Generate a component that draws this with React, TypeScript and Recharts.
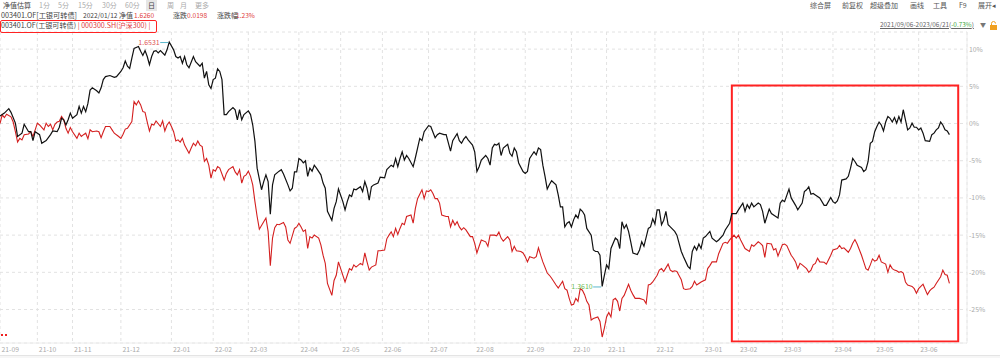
import React from "react";
import { CartesianGrid, LineChart, Line, ReferenceArea, ReferenceDot, XAxis, YAxis } from "recharts";

// trading-day index since 2021/09/06, cumulative return %
const fundReturn: [number, number][] = [
	[0, 1.0], [2, 1.4], [4, 2.0], [5, 1.5], [7, 0.05], [8, -1.75], [10, -1.3], [11, -0.1], [13, -1.1], [14, -1.1], [15, -2.3], [16, -1.1], [18, -1.5], [19, -2.65], [21, -2.3], [23, -1.5], [24, -1.0], [26, -1.1], [27, -0.5], [28, 0.7], [29, 0.5], [30, -0.2], [31, 0.5], [32, 1.4], [33, 0.7], [35, 1.2], [36, 2.3], [37, 1.4], [38, 2.3], [39, 1.6], [40, 2.7], [41, 4.5], [42, 4.8], [44, 4.4], [45, 4.1], [46, 4.8], [47, 5.9], [48, 6.3], [50, 6.45], [52, 6.2], [53, 6.3], [55, 7.0], [56, 7.5], [57, 8.4], [58, 7.7], [59, 7.4], [60, 8.8], [61, 10.1], [63, 10.35], [64, 9.7], [65, 9.15], [66, 9.8], [67, 9.0], [68, 7.9], [69, 9.0], [70, 9.7], [71, 9.8], [72, 9.5], [73, 9.8], [75, 9.2], [76, 9.9], [77, 10.95], [79, 9.9], [80, 9.0], [81, 8.8], [82, 9.0], [83, 8.1], [84, 9.0], [85, 7.9], [86, 7.5], [88, 9.0], [89, 8.3], [91, 7.7], [92, 8.1], [93, 6.1], [94, 7.0], [95, 5.2], [96, 4.7], [97, 5.9], [98, 6.1], [99, 7.35], [100, 7.0], [101, 5.9], [102, 1.2], [103, 1.2], [104, 1.6], [106, 2.15], [107, 1.85], [108, 0.5], [109, 1.85], [110, 0.5], [111, 1.2], [113, 1.7], [114, 1.2], [115, -0.2], [116, -2.4], [117, -6.0], [119, -8.9], [120, -7.8], [121, -6.9], [122, -7.8], [123, -12.2], [124, -8.25], [125, -6.9], [127, -6.4], [128, -6.2], [129, -6.8], [131, -8.25], [132, -9.05], [133, -8.7], [134, -6.5], [135, -6.5], [136, -4.7], [137, -4.9], [138, -5.3], [139, -5.0], [140, -7.1], [141, -6.0], [142, -6.4], [143, -5.6], [144, -6.0], [146, -6.9], [147, -8.0], [148, -8.7], [149, -11.8], [151, -13.0], [152, -11.4], [153, -10.5], [154, -8.8], [156, -10.5], [157, -11.6], [158, -10.5], [159, -9.6], [160, -9.8], [161, -8.8], [162, -8.9], [164, -8.5], [165, -9.15], [166, -7.8], [167, -8.7], [168, -10.3], [169, -8.5], [170, -8.25], [172, -8.0], [173, -7.2], [175, -7.3], [176, -6.2], [178, -5.6], [179, -5.8], [180, -4.7], [181, -5.8], [182, -4.7], [183, -3.8], [184, -4.9], [185, -4.3], [186, -4.7], [188, -5.8], [189, -4.6], [190, -3.3], [191, -2.0], [192, -2.3], [193, -1.1], [195, -0.3], [196, -0.4], [198, -1.9], [199, -1.5], [200, -1.3], [202, -1.5], [203, -1.5], [205, -3.7], [206, -2.3], [208, -1.35], [209, -2.3], [210, -2.65], [211, -2.1], [212, -1.75], [213, -2.2], [215, -2.9], [216, -3.8], [217, -6.45], [218, -5.8], [219, -4.9], [221, -4.3], [222, -4.7], [223, -5.6], [224, -3.3], [225, -2.8], [226, -2.9], [227, -2.65], [228, -4.3], [229, -3.3], [231, -2.8], [232, -4.0], [233, -4.4], [234, -3.3], [235, -3.8], [236, -5.3], [238, -6.45], [239, -6.7], [240, -6.45], [241, -4.7], [243, -3.8], [244, -4.2], [245, -3.3], [246, -3.5], [247, -5.6], [248, -7.1], [249, -8.8], [250, -8.2], [251, -7.7], [253, -8.25], [254, -9.6], [255, -11.2], [256, -11.2], [257, -13.9], [258, -13.4], [259, -13.2], [260, -13.9], [261, -12.95], [262, -12.3], [263, -12.7], [264, -11.5], [265, -11.8], [266, -12.3], [267, -14.1], [269, -15.0], [270, -17.0], [271, -17.2], [272, -17.2], [273, -17.7], [274, -21.9], [275, -20.4], [276, -19.0], [277, -19.5], [278, -16.8], [280, -15.4], [281, -15.65], [282, -16.8], [283, -13.2], [284, -14.1], [285, -13.6], [286, -14.5], [287, -15.9], [288, -17.4], [290, -17.6], [291, -17.0], [292, -15.9], [293, -16.5], [295, -14.1], [296, -13.9], [297, -12.8], [298, -13.5], [299, -11.6], [300, -11.6], [301, -13.6], [302, -13.0], [303, -11.8], [304, -13.6], [305, -13.9], [307, -14.5], [308, -15.0], [310, -17.2], [311, -17.9], [313, -19.2], [314, -19.5], [315, -17.2], [316, -16.5], [317, -17.0], [318, -16.2], [319, -16.8], [320, -15.4], [321, -15.2], [323, -14.5], [324, -15.4], [326, -15.9], [327, -15.65], [329, -15.0], [330, -14.3], [332, -13.4], [333, -12.1], [335, -12.1], [336, -11.6], [338, -10.7], [339, -11.8], [340, -10.9], [341, -11.4], [342, -10.7], [343, -11.2], [345, -10.7], [346, -10.9], [347, -11.8], [348, -13.4], [350, -11.5], [351, -12.1], [353, -12.5], [354, -12.7], [355, -10.7], [356, -10.3], [357, -10.5], [359, -8.8], [360, -10.0], [362, -11.0], [363, -11.6], [365, -10.7], [366, -9.15], [367, -8.9], [368, -8.5], [369, -9.5], [370, -9.4], [371, -9.6], [373, -10.0], [375, -11.0], [376, -11.0], [378, -9.95], [379, -10.5], [380, -10.7], [381, -10.4], [382, -9.6], [383, -7.6], [385, -7.45], [386, -7.1], [387, -6.0], [388, -4.7], [389, -5.1], [390, -5.6], [392, -5.9], [393, -6.45], [394, -6.2], [395, -5.1], [396, -2.65], [397, -2.4], [398, -1.1], [399, -0.4], [400, 0.2], [401, -0.2], [402, -1.0], [403, 0.2], [404, 0.95], [405, 0.7], [406, 0.2], [407, 0.8], [408, 0.05], [409, 0.95], [410, 0.2], [411, 1.85], [412, 0.5], [413, -0.85], [414, -0.6], [415, 0.05], [416, -0.5], [417, -0.5], [418, -0.85], [419, -0.6], [420, -1.3], [421, -2.3], [423, -2.4], [424, -1.5], [425, -1.3], [426, -0.85], [427, -0.6], [428, 0.2], [429, -0.2], [430, -0.85], [431, -1.0], [432, -1.5],
];

const indexReturn: [number, number][] = [
	[0, 0], [1, 1.17], [2, 0.8], [3, 1.25], [5, 0.9], [6, 0.2], [7, -1.1], [8, -2.5], [9, -2.0], [10, -2.2], [11, -1.5], [13, -1.4], [14, -1.1], [15, -1.75], [16, -0.85], [17, 0.05], [18, -0.2], [20, -0.85], [21, 0.05], [22, -0.4], [23, -0.1], [24, -0.85], [25, -0.1], [26, 0.2], [27, 0.3], [28, 0.95], [29, 0.5], [30, -0.65], [31, -1.3], [32, -0.55], [33, -1.1], [35, -2.0], [36, -1.3], [37, -1.75], [38, -1.5], [39, -1.3], [40, -2.05], [41, -0.85], [42, -1.1], [44, -1.0], [45, -1.1], [46, -1.9], [47, -1.1], [48, -0.4], [50, -0.4], [51, -0.85], [52, -1.3], [54, -1.75], [55, -2.0], [56, -1.45], [57, -0.75], [58, -0.65], [60, 0.25], [61, 2.95], [62, 2.5], [63, 3.05], [64, 2.5], [65, 1.6], [66, 1.5], [67, 0.2], [68, -1.0], [69, -0.1], [70, -0.2], [71, 0.35], [73, -0.4], [74, 0.35], [75, -1.0], [76, -0.2], [77, 0.2], [78, -0.4], [79, -1.1], [80, -2.35], [81, -2.2], [82, -2.5], [83, -2.0], [84, -2.9], [86, -4.0], [87, -3.3], [88, -2.65], [89, -3.0], [90, -2.35], [91, -2.9], [92, -3.1], [93, -5.1], [94, -4.7], [95, -5.6], [96, -7.35], [97, -6.2], [98, -6.4], [99, -5.8], [100, -6.0], [102, -7.6], [103, -6.7], [104, -6.2], [106, -5.8], [107, -6.5], [108, -6.9], [109, -6.2], [110, -8.0], [111, -7.1], [112, -6.9], [113, -6.4], [114, -7.1], [115, -8.25], [116, -10.5], [117, -12.5], [118, -14.2], [120, -13.2], [121, -12.7], [122, -14.5], [123, -19.1], [124, -15.4], [125, -14.0], [126, -13.55], [127, -13.6], [129, -13.3], [130, -13.9], [131, -15.65], [132, -16.1], [134, -14.1], [135, -13.9], [136, -13.4], [137, -13.9], [138, -14.5], [139, -14.3], [140, -16.8], [141, -15.2], [142, -15.4], [143, -15.0], [145, -15.4], [146, -16.3], [147, -17.7], [148, -18.8], [149, -21.5], [151, -23.1], [152, -21.1], [153, -20.4], [154, -18.6], [155, -19.5], [157, -21.3], [158, -20.4], [159, -19.5], [160, -19.7], [161, -19.0], [162, -19.3], [164, -18.8], [165, -19.0], [166, -17.4], [167, -18.6], [168, -19.7], [169, -19.3], [171, -19.0], [172, -17.1], [173, -17.1], [175, -17.0], [176, -15.5], [177, -15.0], [178, -14.55], [179, -15.2], [180, -14.1], [181, -14.9], [182, -14.1], [183, -13.4], [184, -13.6], [185, -12.5], [187, -12.3], [188, -13.4], [189, -11.4], [190, -10.1], [192, -8.9], [193, -10.1], [194, -9.05], [195, -9.15], [196, -8.9], [197, -9.4], [198, -10.1], [199, -10.1], [200, -10.7], [201, -12.3], [203, -12.5], [204, -12.5], [205, -13.9], [206, -13.0], [207, -13.65], [208, -13.2], [209, -13.9], [210, -14.3], [211, -14.0], [212, -14.3], [214, -15.2], [215, -15.2], [216, -16.1], [217, -17.4], [218, -16.5], [219, -15.65], [221, -15.9], [222, -16.5], [223, -15.0], [225, -15.0], [226, -15.1], [227, -14.6], [228, -15.4], [229, -15.8], [231, -15.2], [232, -15.65], [233, -17.2], [234, -16.5], [235, -17.1], [237, -17.2], [238, -17.4], [239, -17.9], [240, -18.6], [241, -17.9], [243, -18.1], [244, -17.9], [245, -16.7], [246, -17.7], [247, -18.6], [249, -20.1], [250, -20.4], [251, -20.8], [253, -21.7], [254, -22.1], [256, -21.2], [257, -22.2], [258, -22.4], [259, -23.5], [260, -24.4], [261, -24.3], [262, -23.5], [263, -23.9], [264, -22.2], [265, -22.4], [266, -23.0], [267, -23.9], [268, -24.4], [269, -26.4], [270, -26.2], [272, -26.0], [273, -26.6], [274, -28.7], [275, -27.5], [276, -26.0], [277, -25.4], [278, -26.0], [279, -23.7], [280, -23.5], [281, -23.9], [282, -25.2], [283, -23.5], [284, -23.1], [286, -21.6], [287, -22.4], [288, -23.0], [289, -23.5], [291, -23.5], [293, -23.7], [294, -24.2], [295, -21.7], [296, -21.6], [297, -21.3], [299, -20.4], [300, -19.7], [301, -19.5], [302, -19.9], [304, -18.9], [305, -19.7], [306, -19.9], [307, -19.8], [308, -19.9], [310, -21.0], [311, -22.2], [312, -22.3], [314, -22.2], [315, -21.9], [316, -21.2], [317, -21.7], [318, -21.5], [319, -21.3], [321, -21.0], [322, -19.5], [323, -19.1], [324, -18.6], [326, -18.6], [327, -17.5], [329, -16.1], [330, -15.97], [331, -16.1], [332, -15.65], [334, -15.0], [335, -15.4], [336, -15.0], [337, -15.65], [339, -16.8], [340, -17.0], [341, -17.2], [342, -16.3], [343, -16.5], [345, -15.9], [346, -16.1], [347, -16.4], [348, -18.0], [349, -16.1], [351, -16.2], [352, -17.0], [353, -16.8], [354, -17.8], [356, -16.3], [357, -16.2], [358, -16.4], [360, -17.7], [361, -18.1], [362, -18.6], [363, -19.5], [364, -18.8], [365, -19.0], [367, -19.5], [368, -20.0], [369, -19.7], [370, -19.0], [371, -18.8], [372, -18.1], [373, -18.6], [375, -18.65], [376, -18.9], [377, -18.3], [378, -17.7], [379, -17.0], [381, -16.8], [382, -16.4], [383, -16.8], [384, -16.7], [386, -17.3], [387, -16.8], [388, -16.1], [389, -15.6], [390, -16.2], [392, -17.7], [393, -18.6], [394, -19.5], [395, -19.7], [396, -19.0], [397, -18.2], [398, -18.5], [399, -18.35], [400, -17.7], [401, -18.6], [403, -18.9], [404, -20.0], [405, -19.0], [406, -19.5], [407, -19.7], [408, -19.8], [409, -20.0], [410, -19.9], [411, -20.1], [412, -21.3], [413, -21.7], [414, -21.8], [415, -21.9], [416, -22.2], [417, -22.8], [418, -22.2], [420, -21.6], [421, -22.3], [422, -23.0], [423, -22.5], [424, -22.2], [425, -22.0], [426, -21.5], [428, -20.6], [429, -19.7], [430, -20.3], [431, -20.4], [432, -21.5],
];

// first trading day of each month
const monthTicks = [0, 17, 33, 55, 78, 97, 113, 136, 155, 174, 195, 216, 239, 260, 276, 298, 320, 336, 356, 379, 398, 418];
const monthLabels = ["21-09", "21-10", "21-11", "21-12", "22-01", "22-02", "22-03", "22-04", "22-05", "22-06", "22-07", "22-08", "22-09", "22-10", "22-11", "22-12", "23-01", "23-02", "23-03", "23-04", "23-05", "23-06"];
const pctTicks = [-25, -20, -15, -10, -5, 0, 5, 10];

const highPoint = { t: 77, v: 10.95, nav: "1.6531" };
const lowPoint = { t: 274, v: -21.9, nav: "1.3610" };
const highlight = { from: 333, to: 436, top: 5.1, bottom: -29.3 };

const periodTabs = ["1分", "5分", "15分", "30分", "60分", "日", "周", "月", "更多"];
const toolButtons = ["综合屏", "前复权", "超级叠加", "画线", "工具", "F9", "展开◂"];

const fundData = fundReturn.map(( [t, v] ) => ( { t, v } ));
const indexData = indexReturn.map(( [t, v] ) => ( { t, v } ));

const FONT = '"Noto Sans CJK SC", "Noto Sans", sans-serif';

function T( props: { x: number, y: number, c?: string, s?: number, children: React.ReactNode, style?: React.CSSProperties } ) {
	return <span style={{
		position: "absolute", left: props.x, top: props.y, fontSize: props.s ?? 6.6, color: props.c ?? "#555",
		lineHeight: 1, whiteSpace: "nowrap", ...props.style
	}}>{props.children}</span>;
}

function MonthTick( props: any ) {
	const { x, y, payload } = props;
	const i = monthTicks.indexOf( payload.value );
	return <text x={x + 1.5} y={y + 9} fontSize={6.8} fill="#aaa" fontFamily={FONT}>{monthLabels[i]}</text>;
}

function PctTick( props: any ) {
	const { x, y, payload } = props;
	return <text x={x + 2} y={y + 2.5} fontSize={6.8} fill="#aaa" fontFamily={FONT}>{payload.value}%</text>;
}

function Marker( color: string, text: string ) {
	return ( p: any ) => <g>
		<line x1={p.cx - 9} y1={p.cy + 0.5} x2={p.cx - 1} y2={p.cy + 0.5} stroke="#5ab7cc" strokeWidth={1} />
		<text x={p.cx - 9.5} y={p.cy + 3} textAnchor="end" fontSize={7} fill={color} fontFamily={FONT}>{text}</text>
	</g>;
}

export default function App() {
	const tabX = [39, 58, 78, 102, 125, 148, 167, 180, 195];
	const toolX = [810, 842, 870, 910, 933, 959, 978];
	return <div style={{ position: "absolute", left: 0, top: 0, width: 1000, height: 358, background: "#fff", overflow: "hidden", fontFamily: FONT }}>
		<LineChart width={1000} height={358} data={fundData} margin={{ top: 32, right: 0, bottom: 0, left: 0 }} style={{ position: "absolute", left: 0, top: 0 }}>
			<CartesianGrid stroke="#e2e2e2" strokeDasharray="3 3" />
			<XAxis type="number" dataKey="t" domain={[0, 440]} ticks={monthTicks} interval={0} allowDataOverflow
				height={15} tickSize={0} tickMargin={0} tickLine={false} axisLine={{ stroke: "#ececec" }} tick={<MonthTick />} />
			<YAxis orientation="right" type="number" domain={[-29.5, 12.3]} ticks={pctTicks} interval={0} allowDataOverflow
				width={33} tickSize={0} tickMargin={0} tickLine={false} axisLine={{ stroke: "#ececec" }} tick={<PctTick />} />
			<Line data={indexData} dataKey="v" type="linear" stroke="#d41f1f" strokeWidth={1.1} dot={false} isAnimationActive={false} />
			<Line data={fundData} dataKey="v" type="linear" stroke="#111" strokeWidth={1.2} dot={false} isAnimationActive={false} />
			<ReferenceArea x1={highlight.from} x2={highlight.to} y1={highlight.bottom} y2={highlight.top}
				fill="none" fillOpacity={0} stroke="#f22" strokeWidth={2} />
			<ReferenceDot x={highPoint.t} y={highPoint.v} r={0} shape={Marker( "#e05555", highPoint.nav )} />
			<ReferenceDot x={lowPoint.t} y={lowPoint.v} r={0} shape={Marker( "#6cbb55", lowPoint.nav )} />
		</LineChart>

		{/* toolbar */}
		<T x={3} y={1.5} c="#444" s={7}>净值估算</T>
		<div style={{ position: "absolute", left: 146, top: 0, width: 11, height: 11, background: "#e6e6e6" }} />
		{periodTabs.map( ( s, i ) => <T key={s} x={tabX[i]} y={1.5} s={7} c={s === "日" ? "#444" : "#aaa"}>{s}</T> )}
		{toolButtons.map( ( s, i ) => <T key={s} x={toolX[i]} y={1.5} s={7} c="#555">{s}</T> )}

		<T x={1} y={12} c="#444" s={7.2}>003401.OF[工银可转债]</T>
		<T x={83} y={12.3} c="#444">2022/01/12</T>
		<T x={119} y={12} c="#444" s={7}>净值</T>
		<T x={134} y={12.3} c="#e03c3c">1.6260</T>
		<T x={173} y={12} c="#444" s={7}>涨跌</T>
		<T x={187} y={12.3} c="#e03c3c">0.0198</T>
		<T x={217} y={12} c="#444" s={7}>涨跌幅</T>
		<T x={236} y={12.3} c="#e03c3c">1.23%</T>

		<div style={{ position: "absolute", left: 0, top: 20, width: 155, height: 11, border: "1px solid #f22", borderRadius: 2 }} />
		<T x={1} y={22.2} c="#444" s={7.1}>003401.OF(工银可转债) <span style={{ color: "#e03c3c" }}>| 000300.SH(沪深300) |</span></T>

		<T x={880} y={21.6} c="#666" s={6.4} style={{ textDecoration: "underline" }}>2021/09/06-2023/06/21(<span style={{ color: "#3aa63a" }}>-0.73%</span>)</T>
		<T x={980} y={22} c="#777" s={6}>▼</T>
		<svg style={{ position: "absolute", left: 989, top: 21 }} width={9} height={9}>
			<path d="M2.5 4 V2.5 a2 2 0 0 1 4 0" fill="none" stroke="#f0a020" strokeWidth={1} />
			<rect x={1} y={4} width={7} height={5} fill="#f0a020" />
		</svg>

		{/* small markers and scrollbar */}
		<div style={{ position: "absolute", left: 1, top: 334, width: 2, height: 2, background: "#e22" }} />
		<div style={{ position: "absolute", left: 5, top: 334, width: 2, height: 2, background: "#e22" }} />
		<div style={{ position: "absolute", left: 0, top: 355, width: 1000, height: 3, borderTop: "1px solid #e4e4e4", background: "#f6f6f6" }} />
	</div>;
}
